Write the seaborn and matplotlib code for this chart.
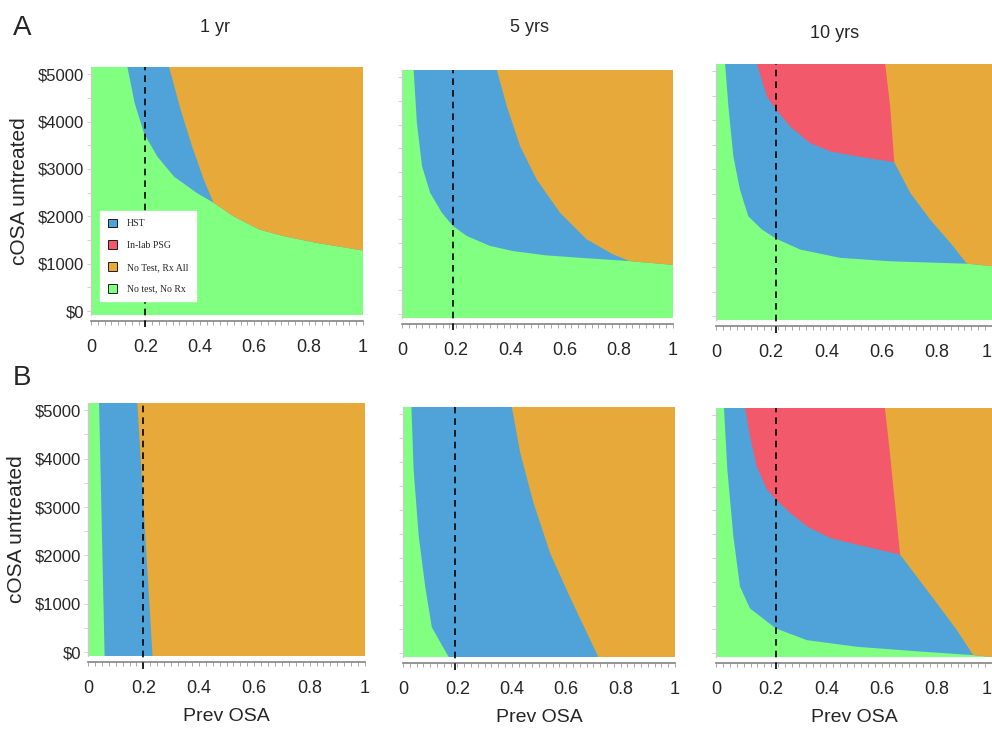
import matplotlib
matplotlib.use("Agg")
import matplotlib.pyplot as plt
from matplotlib.patches import Patch
from matplotlib.ticker import MultipleLocator
import seaborn as sns

# 1. DATA
Y_TOP = 5150
Y_BOT = -80

strategies = ["HST", "In-lab PSG", "No Test, Rx All", "No test, No Rx"]
colors     = ["#4fa3d8", "#f2596b", "#e6a93a", "#80ff80"]

col_titles = ["1 yr", "5 yrs", "10 yrs"]
row_labels = ["A", "B"]
y_ticks    = [0, 1000, 2000, 3000, 4000, 5000]
y_labels   = ["$0", "$1000", "$2000", "$3000", "$4000", "$5000"]
x_ticks    = [0, 0.2, 0.4, 0.6, 0.8, 1]
x_labels   = ["0", "0.2", "0.4", "0.6", "0.8", "1"]
prev_marks = [0.2, 0.19, 0.218]

# A, 1 yr
a1_green_x  = [0.134, 0.16, 0.195, 0.244, 0.305, 0.39, 0.45, 0.524, 0.62, 0.71, 0.83, 1.0]
a1_green_y  = [Y_TOP, 4400, 3750, 3260, 2840, 2490, 2290, 2000, 1720, 1580, 1440, 1280]
a1_orange_x = [0.287, 0.33, 0.372, 0.415, 0.45, 0.524, 0.62, 0.71, 0.83, 1.0]
a1_orange_y = [Y_TOP, 4240, 3470, 2770, 2290, 2000, 1720, 1580, 1440, 1280]

# A, 5 yrs
a2_green_x  = [0.043, 0.055, 0.074, 0.104, 0.147, 0.188, 0.239, 0.325, 0.411, 0.534, 0.656, 0.84, 1.0]
a2_green_y  = [Y_TOP, 4030, 3120, 2560, 2140, 1860, 1650, 1440, 1330, 1240, 1190, 1120, 1040]
a2_orange_x = [0.35, 0.387, 0.436, 0.497, 0.583, 0.681, 0.779, 0.84, 1.0]
a2_orange_y = [Y_TOP, 4380, 3540, 2840, 2140, 1580, 1260, 1120, 1040]

# A, 10 yrs
a3_green_x  = [0.033, 0.045, 0.063, 0.087, 0.117, 0.166, 0.218, 0.305, 0.45, 0.631, 0.909, 1.0]
a3_green_y  = [Y_TOP, 4280, 3260, 2580, 2040, 1770, 1580, 1360, 1190, 1120, 1070, 1020]
a3_red_x    = [0.148, 0.184, 0.218, 0.268, 0.341, 0.414, 0.51, 0.649, 1.0]
a3_red_y    = [Y_TOP, 4490, 4215, 3875, 3535, 3365, 3263, 3140, 3140]
a3_orange_x = [0.613, 0.631, 0.646, 0.704, 0.776, 0.849, 0.909, 1.0]
a3_orange_y = [Y_TOP, 4280, 3140, 2515, 1970, 1495, 1070, 1020]

# B, 1 yr
b1_green_x  = [0.04, 0.06]
b1_green_y  = [Y_TOP, Y_BOT]
b1_orange_x = [0.178, 0.233]
b1_orange_y = [Y_TOP, Y_BOT]

# B, 5 yrs
b2_green_x  = [0.031, 0.039, 0.058, 0.082, 0.106, 0.168]
b2_green_y  = [Y_TOP, 3840, 2440, 1380, 540, Y_BOT]
b2_orange_x = [0.40, 0.431, 0.48, 0.541, 0.614, 0.718]
b2_orange_y = [Y_TOP, 4190, 3140, 2090, 1170, Y_BOT]

# B, 10 yrs
b3_green_x  = [0.029, 0.041, 0.063, 0.087, 0.123, 0.217, 0.329, 0.51, 0.751, 0.932, 1.0]
b3_green_y  = [Y_TOP, 3860, 2450, 1400, 940, 520, 275, 135, 30, -40, Y_BOT]
b3_red_x    = [0.105, 0.123, 0.147, 0.184, 0.217, 0.268, 0.329, 0.413, 0.51, 0.667, 1.0]
b3_red_y    = [Y_TOP, 4560, 3930, 3440, 3230, 2950, 2665, 2420, 2280, 2070, 2070]
b3_orange_x = [0.612, 0.63, 0.667, 0.727, 0.80, 0.872, 0.932, 1.0]
b3_orange_y = [Y_TOP, 4210, 2070, 1610, 1050, 490, -40, Y_BOT]

panels = [
    [(a1_green_x, a1_green_y, None, None, a1_orange_x, a1_orange_y),
     (a2_green_x, a2_green_y, None, None, a2_orange_x, a2_orange_y),
     (a3_green_x, a3_green_y, a3_red_x, a3_red_y, a3_orange_x, a3_orange_y)],
    [(b1_green_x, b1_green_y, None, None, b1_orange_x, b1_orange_y),
     (b2_green_x, b2_green_y, None, None, b2_orange_x, b2_orange_y),
     (b3_green_x, b3_green_y, b3_red_x, b3_red_y, b3_orange_x, b3_orange_y)],
]

# axes rectangles in pixels: left, top, right, bottom
W, H = 992, 730
rects = [
    [(91, 67, 363, 315), (402, 70, 673, 318), (716, 64, 992, 320)],
    [(88, 403, 365, 656), (403, 407, 675, 657), (716, 408, 992, 657)],
]
title_pos = [(215, 28), (530, 28), (835, 33)]

# 2. STYLE
sns.set_theme(style="white")
plt.rcParams["font.family"] = ["Liberation Sans", "DejaVu Sans"]


def fill_above(ax, xs, ys, color):
    # region right of / above a boundary that starts on the top edge
    px = list(xs) + [1.0, 1.0]
    py = list(ys) + [ys[-1], Y_TOP]
    ax.fill(px, py, color=color, lw=0)


# 3. PLOT
fig = plt.figure(figsize=(W / 100, H / 100), dpi=100)

for r in range(2):
    for c in range(3):
        l, t, rr, b = rects[r][c]
        ax = fig.add_axes([l / W, 1 - b / H, (rr - l) / W, (b - t) / H])
        gx, gy, rx, ry, ox, oy = panels[r][c]

        ax.set_facecolor(colors[3])
        fill_above(ax, gx, gy, colors[0])
        if rx is not None:
            fill_above(ax, rx, ry, colors[1])
        fill_above(ax, ox, oy, colors[2])

        ax.axvline(prev_marks[c], ymin=-0.05, ymax=1, color="black", lw=1.2,
                   ls=(0, (4, 3)), clip_on=False, zorder=5)

        ax.set_xlim(0, 1)
        ax.set_ylim(Y_BOT, Y_TOP)

        sns.despine(ax=ax)
        ax.spines["bottom"].set_position(("outward", 4))
        ax.spines["bottom"].set_color("#888888")
        ax.spines["left"].set_color("#cccccc")
        ax.spines["left"].set_linewidth(1.0)

        ax.set_xticks(x_ticks)
        ax.set_xticklabels(x_labels)
        ax.xaxis.set_minor_locator(MultipleLocator(0.025))
        ax.yaxis.set_major_locator(MultipleLocator(1000))
        ax.yaxis.set_minor_locator(MultipleLocator(500))
        ax.tick_params(axis="x", which="both", bottom=True, length=3, width=0.6,
                       color="#999999", labelsize=13, pad=10)
        ax.tick_params(axis="y", which="both", left=True, length=3, width=0.6,
                       color="#cccccc", labelsize=12, pad=2)
        if c == 2:
            ax.get_xticklabels()[-1].set_horizontalalignment("right")

        if c == 0:
            ax.set_yticks(y_ticks)
            ax.set_yticklabels(y_labels)
            ax.set_ylabel("cOSA untreated", fontsize=15, labelpad=6)
        else:
            ax.set_yticklabels([])

        if r == 1:
            ax.set_xlabel("Prev OSA", fontsize=14, labelpad=8)

        if r == 0 and c == 0:
            handles = [Patch(facecolor=colors[i], edgecolor="black", lw=0.6)
                       for i in range(4)]
            leg = ax.legend(handles, strategies, loc="lower left",
                            bbox_to_anchor=(0.015, 0.035), frameon=True,
                            fancybox=False, framealpha=1, edgecolor="white",
                            prop={"family": "Liberation Serif", "size": 7},
                            handlelength=1.0, handleheight=1.0,
                            labelspacing=1.25, borderpad=0.8, handletextpad=1.0)

for c, title in enumerate(col_titles):
    tx, ty = title_pos[c]
    fig.text(tx / W, 1 - ty / H, title, fontsize=13, ha="center", va="center")

for r, lab in enumerate(row_labels):
    fig.text(22 / W, 1 - (28 + r * 350) / H, lab, fontsize=20,
             ha="center", va="center")

fig.savefig("out.png", dpi=100)
